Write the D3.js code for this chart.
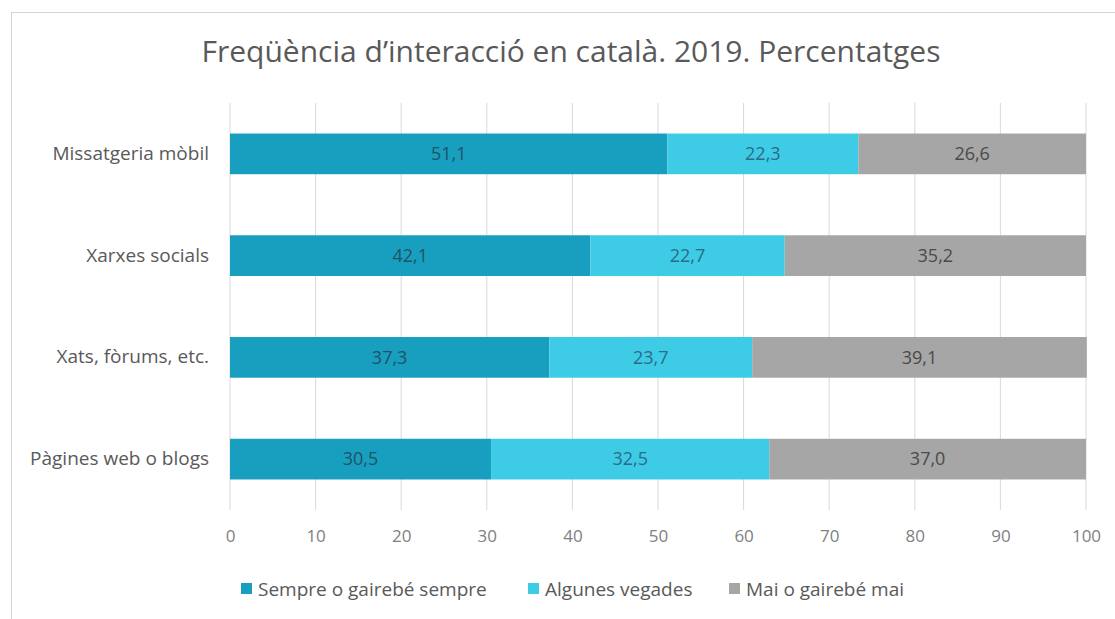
<!DOCTYPE html>
<html>
<head>
<meta charset="utf-8">
<script src="https://cdn.jsdelivr.net/npm/d3@7"></script>
<style>
  body { margin: 0; background: #fff; }
  text { font-family: "Open Sans", "Noto Sans", sans-serif; }
</style>
</head>
<body>
<svg id="chart" width="1115" height="619"></svg>
<script>
const categories = ["Missatgeria mòbil", "Xarxes socials", "Xats, fòrums, etc.", "Pàgines web o blogs"];
const seriesNames = ["Sempre o gairebé sempre", "Algunes vegades", "Mai o gairebé mai"];
const sempre = [51.1, 42.1, 37.3, 30.5];
const algunes = [22.3, 22.7, 23.7, 32.5];
const mai = [26.6, 35.2, 39.1, 37.0];
const ticks = [0, 10, 20, 30, 40, 50, 60, 70, 80, 90, 100];
const colors = ["#189fbf", "#3ecbe6", "#a6a6a6"];
const labelColors = ["#1f5368", "#2a6d86", "#4a4a4a"];

const svg = d3.select("#chart");

// outer frame (only top and left edges fall inside the picture)
svg.append("rect")
    .attr("x", 11.5).attr("y", 12.5)
    .attr("width", 1130).attr("height", 630)
    .attr("fill", "#fff")
    .attr("stroke", "#d4d4d4");

svg.append("text")
    .attr("x", 571).attr("y", 62)
    .attr("text-anchor", "middle")
    .attr("font-size", 30)
    .attr("fill", "#595959")
    .text("Freqüència d’interacció en català. 2019. Percentatges");

const x = d3.scaleLinear().domain([0, 100]).range([230, 1086]);
const y = d3.scaleBand().domain(categories).range([103, 510]).paddingInner(0.6).paddingOuter(0.3);

// gridlines
svg.append("g")
    .selectAll("line")
    .data(ticks)
    .enter()
    .append("line")
        .attr("x1", d => x(d)).attr("x2", d => x(d))
        .attr("y1", 103).attr("y2", 510)
        .attr("stroke", "#d9d9d9")
        .attr("stroke-width", 1);

// x axis labels
const xAxis = svg.append("g")
    .attr("transform", "translate(0, 510)")
    .call(d3.axisBottom(x).tickValues(ticks).tickSize(0).tickPadding(20));
xAxis.select(".domain").remove();
xAxis.selectAll("text")
    .attr("font-size", 17)
    .attr("fill", "#808080")
    .style("font-family", "'Open Sans', sans-serif");

// y axis labels
const yAxis = svg.append("g")
    .attr("transform", "translate(209, 0)")
    .call(d3.axisLeft(y).tickSize(0).tickPadding(0));
yAxis.select(".domain").remove();
yAxis.selectAll("text")
    .attr("font-size", 19)
    .attr("fill", "#595959")
    .style("font-family", "'Open Sans', sans-serif");

const rows = categories.map((c, i) => ({cat: c, v: [sempre[i], algunes[i], mai[i]]}));
const stacked = d3.stack().keys([0, 1, 2]).value((d, k) => d.v[k])(rows);

const layers = svg.append("g")
    .selectAll("g")
    .data(stacked)
    .enter()
    .append("g")
        .attr("fill", (d, i) => colors[i]);

layers.selectAll("rect")
    .data(d => d)
    .enter()
    .append("rect")
        .attr("x", d => x(d[0]))
        .attr("width", d => x(d[1]) - x(d[0]))
        .attr("y", d => y(d.data.cat))
        .attr("height", y.bandwidth());

layers.each(function(layer, i) {
    d3.select(this).selectAll("text")
        .data(layer)
        .enter()
        .append("text")
            .attr("x", d => (x(d[0]) + x(d[1])) / 2)
            .attr("y", d => y(d.data.cat) + y.bandwidth() / 2)
            .attr("dy", "0.35em")
            .attr("text-anchor", "middle")
            .attr("font-size", 18)
            .attr("fill", labelColors[i])
            .text(d => d3.format(".1f")(d[1] - d[0]).replace(".", ","));
});

// legend
const legendX = [258, 545, 746];
const legend = svg.append("g")
    .selectAll("g")
    .data(seriesNames)
    .enter()
    .append("g")
        .attr("transform", (d, i) => `translate(${legendX[i]}, 589)`);
legend.append("rect")
    .attr("x", -17).attr("y", -6)
    .attr("width", 11).attr("height", 11)
    .attr("fill", (d, i) => colors[i]);
legend.append("text")
    .attr("x", 0).attr("dy", "0.35em")
    .attr("font-size", 19)
    .attr("fill", "#595959")
    .text(d => d);
</script>
</body>
</html>
